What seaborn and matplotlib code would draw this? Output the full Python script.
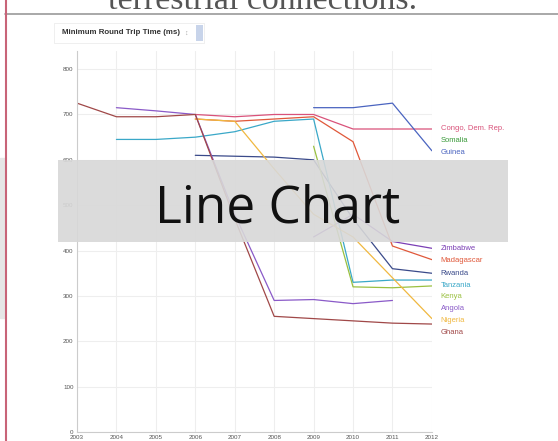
import numpy as np
import pandas as pd
import matplotlib.pyplot as plt
import seaborn as sns
from matplotlib.patches import Rectangle
from matplotlib.lines import Line2D

# Data (minimum round trip time in ms)
years = list(range(2003, 2013))
nan = np.nan
congo = [nan, nan, nan, 700, 695, 700, 700, 668, 668, 668]
somalia = [nan, nan, nan, nan, nan, nan, nan, nan, nan, 645]
guinea = [nan, nan, nan, nan, nan, nan, 715, 715, 725, 620]
zimbabwe = [nan, nan, nan, nan, nan, nan, 430, 480, 420, 405]
madagascar = [nan, nan, nan, 690, 685, 690, 695, 640, 410, 380]
rwanda = [nan, nan, nan, 610, 608, 606, 600, 470, 360, 350]
tanzania = [nan, 645, 645, 650, 662, 685, 690, 330, 335, 335]
kenya = [nan, nan, nan, nan, nan, nan, 630, 320, 318, 322]
angola = [nan, 715, 708, 700, 480, 290, 292, 283, 290, nan]
nigeria = [nan, nan, nan, 690, 685, 580, 480, 430, 340, 250]
ghana = [725, 695, 695, 700, 470, 255, 250, 245, 240, 238]

countries = ['Congo, Dem. Rep.', 'Somalia', 'Guinea', 'Zimbabwe', 'Madagascar',
             'Rwanda', 'Tanzania', 'Kenya', 'Angola', 'Nigeria', 'Ghana']
series = [congo, somalia, guinea, zimbabwe, madagascar, rwanda, tanzania,
          kenya, angola, nigeria, ghana]
colors = ['#d9527a', '#3a9a3a', '#4a64c0', '#7b3fb5', '#e0583a', '#3a4a8a',
          '#3aa8c8', '#9ac040', '#8a5ac8', '#f0b840', '#a04848']

rows = []
for name, vals in zip(countries, series):
    for y, v in zip(years, vals):
        rows.append({'year': y, 'rtt': v, 'country': name})
df = pd.DataFrame(rows).dropna()

sns.set_style('whitegrid', {'grid.color': '#eeeeee', 'axes.edgecolor': '#dddddd'})
plt.rcParams['font.family'] = ['Liberation Sans', 'DejaVu Sans']

fig = plt.figure(figsize=(5.58, 4.41), dpi=100)
ax = fig.add_axes([0.138, 0.0204, 0.636, 0.864])

sns.lineplot(data=df, x='year', y='rtt', hue='country', hue_order=countries,
             palette=dict(zip(countries, colors)), linewidth=0.9, legend=False, ax=ax)

ax.set_xlim(2003, 2012)
ax.set_ylim(0, 840)
ax.set_xticks(years)
ax.set_yticks(range(0, 801, 100))
ax.tick_params(labelsize=4.5, colors='#555555', length=0, pad=2.5)
ax.set_xlabel('')
ax.set_ylabel('')
for s in ['top', 'right']:
    ax.spines[s].set_visible(False)
ax.spines['bottom'].set_color('#cccccc')
ax.spines['left'].set_color('#cccccc')

# end labels, spread so they do not overlap
ends = []
for name, vals, c in zip(countries, series, colors):
    last = [v for v in vals if not np.isnan(v)][-1]
    ends.append([last, name, c])
ends.sort(key=lambda e: -e[0])
prev = None
for e in ends:
    pos = e[0] if prev is None else min(e[0], prev - 26)
    prev = pos
    ax.text(2012.22, pos, e[1], color=e[2], fontsize=5.5, va='center',
            clip_on=False)

# page decoration around the chart
fig.text(0.47, 1 - 9 / 441, 'terrestrial connections.', ha='center', va='baseline',
         fontsize=24.5, color='#555555', family='Liberation Serif')
fig.add_artist(Line2D([5 / 558, 1], [1 - 14 / 441] * 2, color='#999999', lw=1.2))
fig.add_artist(Line2D([6 / 558] * 2, [0, 1], color='#c86478', lw=1.5))
fig.patches.append(Rectangle((0, 1 - 318 / 441), 4.5 / 558, 160 / 441,
                             transform=fig.transFigure, color='#e6e6e6', zorder=1))

# dropdown
fig.patches.append(Rectangle((54 / 558, 1 - 43 / 441), 150 / 558, 20 / 441,
                             transform=fig.transFigure, facecolor='white',
                             edgecolor='#ececec', lw=0.6, zorder=2))
fig.text(62 / 558, 1 - 33 / 441, 'Minimum Round Trip Time (ms)', fontsize=5.7,
         weight='bold', color='#333333', va='center')
fig.text(184 / 558, 1 - 33 / 441, '\u2195', fontsize=5, color='#aaaaaa', va='center')
fig.patches.append(Rectangle((196 / 558, 1 - 41 / 441), 7 / 558, 16 / 441,
                             transform=fig.transFigure, facecolor='#c8d4ea',
                             edgecolor='none', zorder=2))

# "Line Chart" banner over the plot
fig.patches.append(Rectangle((58 / 558, 1 - 242 / 441), 450 / 558, 82 / 441,
                             transform=fig.transFigure, facecolor='#d8d8d8',
                             alpha=0.9, edgecolor='none', zorder=3))
fig.text(278 / 558, 1 - 209 / 441, 'Line Chart', fontsize=37, ha='center',
         va='center', color='#111111', family='Open Sans', zorder=4)

fig.savefig('out.png', dpi=100)
